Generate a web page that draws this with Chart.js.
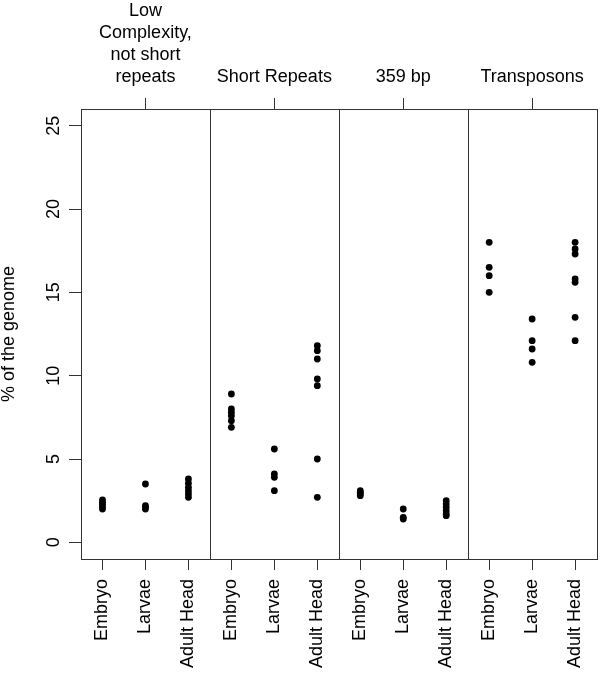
<!DOCTYPE html>
<html>
<head>
<meta charset="utf-8">
<script src="https://cdn.jsdelivr.net/npm/chart.js@4.4.1/dist/chart.umd.min.js"></script>
<style>
  html, body { margin: 0; padding: 0; background: #fff; }
  canvas { display: block; }
</style>
</head>
<body>
<canvas id="c" width="600" height="673"></canvas>
<script>
// ---- data ----
const categories = ['Embryo', 'Larvae', 'Adult Head'];
const panelLabels = [['Low', 'Complexity,', 'not short', 'repeats'], 'Short Repeats', '359 bp', 'Transposons'];

const lowComplexity = [
  [2.0, 2.15, 2.3, 2.4, 2.55],
  [3.5, 2.2, 2.1, 2.0],
  [3.8, 3.55, 3.3, 3.1, 2.9, 2.7]
];
const shortRepeats = [
  [8.9, 8.0, 7.8, 7.6, 7.3, 6.9],
  [5.6, 4.1, 3.9, 3.1],
  [11.8, 11.5, 11.0, 9.8, 9.4, 5.0, 2.7]
];
const bp359 = [
  [3.1, 3.0, 2.9, 2.8],
  [2.0, 1.5, 1.4],
  [2.5, 2.3, 2.1, 1.9, 1.7, 1.6]
];
const transposons = [
  [18.0, 16.5, 16.0, 15.0],
  [13.4, 12.1, 11.6, 10.8],
  [18.0, 17.6, 17.3, 15.8, 15.6, 13.5, 12.1]
];
const yTicks = [0, 5, 10, 15, 20, 25];
const yTickLabels = ['0', '5', '10', '15', '20', '25'];
const yTitle = '% of the genome';

// ---- build chart structures ----
const panels = [lowComplexity, shortRepeats, bp359, transposons];
const points = [];
panels.forEach((panel, p) => {
  panel.forEach((vals, c) => {
    vals.forEach(v => points.push({ x: p * categories.length + c + 1, y: v }));
  });
});
const nCat = panels.length * categories.length;
const bottomTickPos = Array.from({ length: nCat }, (_, i) => i + 1);
const topTickPos = panels.map((_, p) => p * categories.length + 2);
const dividers = panels.slice(1).map((_, p) => (p + 1) * categories.length + 0.5);

const FONT = "'Liberation Sans', Arial, Helvetica, sans-serif";
const AXIS_COLOR = '#333';

const framePlugin = {
  id: 'frame',
  beforeDatasetsDraw(chart) {
    const { ctx, chartArea: a, scales } = chart;
    const al = v => Math.round(v) + 0.5;
    ctx.save();
    ctx.strokeStyle = AXIS_COLOR;
    ctx.lineWidth = 1;
    ctx.strokeRect(al(a.left), al(a.top), Math.round(a.right) - Math.round(a.left), Math.round(a.bottom) - Math.round(a.top));
    dividers.forEach(d => {
      const x = al(scales.x.getPixelForValue(d));
      ctx.beginPath();
      ctx.moveTo(x, al(a.top));
      ctx.lineTo(x, al(a.bottom));
      ctx.stroke();
    });
    ctx.restore();
  },
  afterDraw(chart) {
    const { ctx, scales } = chart;
    ctx.save();
    ctx.fillStyle = '#000';
    ctx.font = '18px ' + FONT;
    ctx.textAlign = 'center';
    ctx.textBaseline = 'middle';
    yTicks.forEach((v, i) => {
      const y = scales.y.getPixelForValue(v);
      ctx.save();
      ctx.translate(54, y);
      ctx.rotate(-Math.PI / 2);
      ctx.fillText(yTickLabels[i], 0, 0);
      ctx.restore();
    });
    ctx.restore();
  }
};

new Chart(document.getElementById('c'), {
  type: 'scatter',
  data: {
    datasets: [{
      data: points,
      xAxisID: 'x',
      yAxisID: 'y',
      backgroundColor: '#000',
      borderWidth: 0,
      pointRadius: 3.4,
      pointHoverRadius: 3.4
    }]
  },
  options: {
    responsive: false,
    devicePixelRatio: 1,
    animation: false,
    layout: { padding: { left: 0, right: 1, top: 0, bottom: 0 } },
    plugins: { legend: { display: false }, tooltip: { enabled: false } },
    scales: {
      x: {
        type: 'linear',
        position: 'bottom',
        min: 0.5,
        max: nCat + 0.5,
        afterBuildTicks: s => { s.ticks = bottomTickPos.map(v => ({ value: v })); },
        afterFit: s => { s.height = 114; s.paddingLeft = 0; s.paddingRight = 0; },
        grid: { drawOnChartArea: false, drawTicks: true, tickLength: 11, color: AXIS_COLOR, lineWidth: 1 },
        border: { display: false },
        ticks: {
          autoSkip: false,
          minRotation: 90,
          maxRotation: 90,
          padding: 9,
          color: '#000',
          font: { family: FONT, size: 18 },
          callback: v => categories[(Math.round(v) - 1) % categories.length]
        }
      },
      x2: {
        type: 'linear',
        position: 'top',
        min: 0.5,
        max: nCat + 0.5,
        afterBuildTicks: s => { s.ticks = topTickPos.map(v => ({ value: v })); },
        afterFit: s => { s.height = 109; s.paddingLeft = 0; s.paddingRight = 0; },
        grid: { drawOnChartArea: false, drawTicks: true, tickLength: 11, color: AXIS_COLOR, lineWidth: 1 },
        border: { display: false },
        ticks: {
          autoSkip: false,
          minRotation: 0,
          maxRotation: 0,
          padding: 10,
          color: '#000',
          font: { family: FONT, size: 18, lineHeight: '22px' },
          callback: v => panelLabels[Math.round((v - 2) / categories.length)]
        }
      },
      y: {
        type: 'linear',
        position: 'left',
        min: -1,
        max: 26,
        afterBuildTicks: s => { s.ticks = yTicks.map(v => ({ value: v })); },
        afterFit: s => { s.width = 81; s.paddingTop = 0; s.paddingBottom = 0; },
        grid: { drawOnChartArea: false, drawTicks: true, tickLength: 12, color: AXIS_COLOR, lineWidth: 1 },
        border: { display: false },
        ticks: { display: false },
        title: {
          display: true,
          text: yTitle,
          color: '#000',
          padding: { top: 0, bottom: 0 },
          font: { family: FONT, size: 18, lineHeight: 1 }
        }
      }
    }
  },
  plugins: [framePlugin]
});
</script>
</body>
</html>
